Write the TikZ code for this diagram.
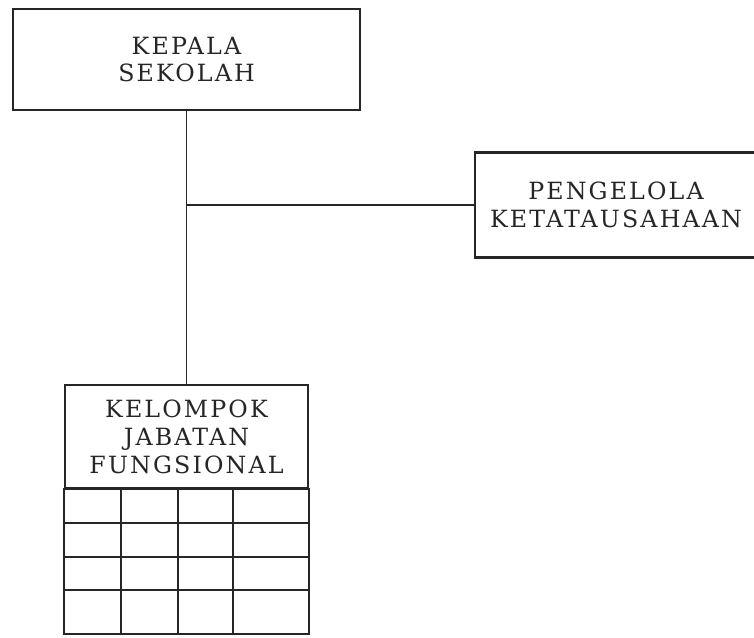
\documentclass[tikz,border=0pt]{standalone}
\usepackage{fontspec}
\setmainfont[LetterSpace=9]{DejaVu Serif}
\usetikzlibrary{positioning}

\begin{document}
\begin{tikzpicture}[
      unit/.style={
        draw=black!85,
        line width=1.2pt,
        align=center,
        inner sep=0pt,
        text=black!85,
        font=\fontsize{13.5}{15.9}\selectfont
      },
      garis/.style={draw=black!85, line width=1.1pt},
      sel/.style={draw=black!85, line width=1.2pt}
    ]
    \useasboundingbox (0,0) rectangle (15.08,-12.74);

    \node[unit, minimum width=6.94cm, minimum height=2.02cm] (kepala) at (3.73,-1.19) {KEPALA\\SEKOLAH};
    \node[unit, minimum width=5.64cm, minimum height=2.10cm] (pengelola) at (12.32,-4.10) {PENGELOLA\\KETATAUSAHAAN};
    \node[unit, minimum width=4.86cm, minimum height=2.06cm] (kelompok) at (3.73,-8.73) {KELOMPOK\\JABATAN\\FUNGSIONAL};

    % garis komando
    \coordinate (cabang) at (kepala.south |- pengelola.west);
    \draw[garis] (kepala.south) -- (kelompok.north);
    \draw[garis] (cabang) -- (pengelola.west);

    % tabel di bawah kelompok jabatan
    \coordinate (tabelatas) at (kelompok.south west);
    \coordinate (tabelbawah) at ([yshift=-2.90cm]kelompok.south east);
    \draw[sel] (tabelatas) rectangle (tabelbawah);
    \foreach \y in {-10.46,-11.14,-11.80}
      \draw[sel] (tabelatas |- 0,\y) -- (tabelbawah |- 0,\y);
    \foreach \x in {2.42,3.56,4.66}
      \draw[sel] (\x,0 |- tabelatas) -- (\x,0 |- tabelbawah);
  \end{tikzpicture}
\end{document}
